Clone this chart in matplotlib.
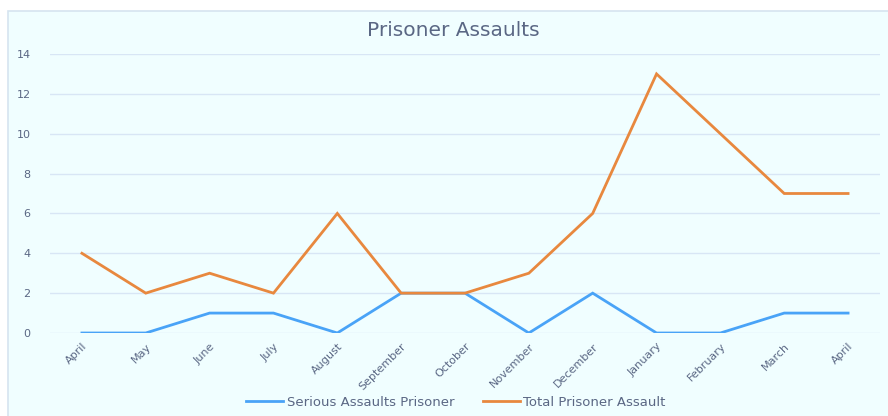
import matplotlib
matplotlib.use("Agg")
import matplotlib.pyplot as plt
from matplotlib.patches import Rectangle

months = ["April", "May", "June", "July", "August", "September", "October",
          "November", "December", "January", "February", "March", "April"]
serious = [0, 0, 1, 1, 0, 2, 2, 0, 2, 0, 0, 1, 1]
total = [4, 2, 3, 2, 6, 2, 2, 3, 6, 13, 10, 7, 7]
yticks = [0, 2, 4, 6, 8, 10, 12, 14]

plt.rcParams['font.family'] = ['DejaVu Sans']
txt = '#5A6784'

fig = plt.figure(figsize=(8.88, 4.16), dpi=100)
fig.patches.append(Rectangle((8/888, -0.01), 1, 1.01 - 11/416, transform=fig.transFigure,
                             facecolor='#F0FEFF', edgecolor='#D6E4F0', linewidth=1.2, zorder=-5))
ax = fig.add_axes([50/888, 1 - 333/416, 830/888, 279/416])
ax.set_facecolor('none')
ax.set_zorder(2)
x = list(range(len(months)))
ax.plot(x, serious, color='#49A3F7', lw=2.0, label='Serious Assaults Prisoner', solid_joinstyle='miter')
ax.plot(x, total, color='#E8883E', lw=2.0, label='Total Prisoner Assault', solid_joinstyle='miter')
ax.set_xlim(-0.5, len(months) - 0.5)
ax.set_ylim(0, 14)
ax.set_yticks(yticks)
ax.set_yticklabels([str(v) for v in yticks], fontsize=8, color=txt)
ax.set_xticks(x)
ax.set_xticklabels(months, rotation=45, ha='right', rotation_mode='anchor', fontsize=8, color=txt)
ax.tick_params(axis='both', length=0)
ax.tick_params(axis='y', pad=14)
ax.tick_params(axis='x', pad=6)
ax.grid(axis='y', color='#D8E6F5', lw=1)
for s in ax.spines.values():
    s.set_visible(False)
ax.set_axisbelow(True)
fig.text(453/888, 1 - 31/416, 'Prisoner Assaults', ha='center', va='center', fontsize=14.5, color=txt)
fig.legend(loc='center', bbox_to_anchor=(456/888, 1 - 402/416), ncol=2, frameon=False,
           fontsize=9.5, labelcolor=txt, handlelength=2.8, handletextpad=0.25, columnspacing=2.2)
fig.savefig('out.png', dpi=100)
